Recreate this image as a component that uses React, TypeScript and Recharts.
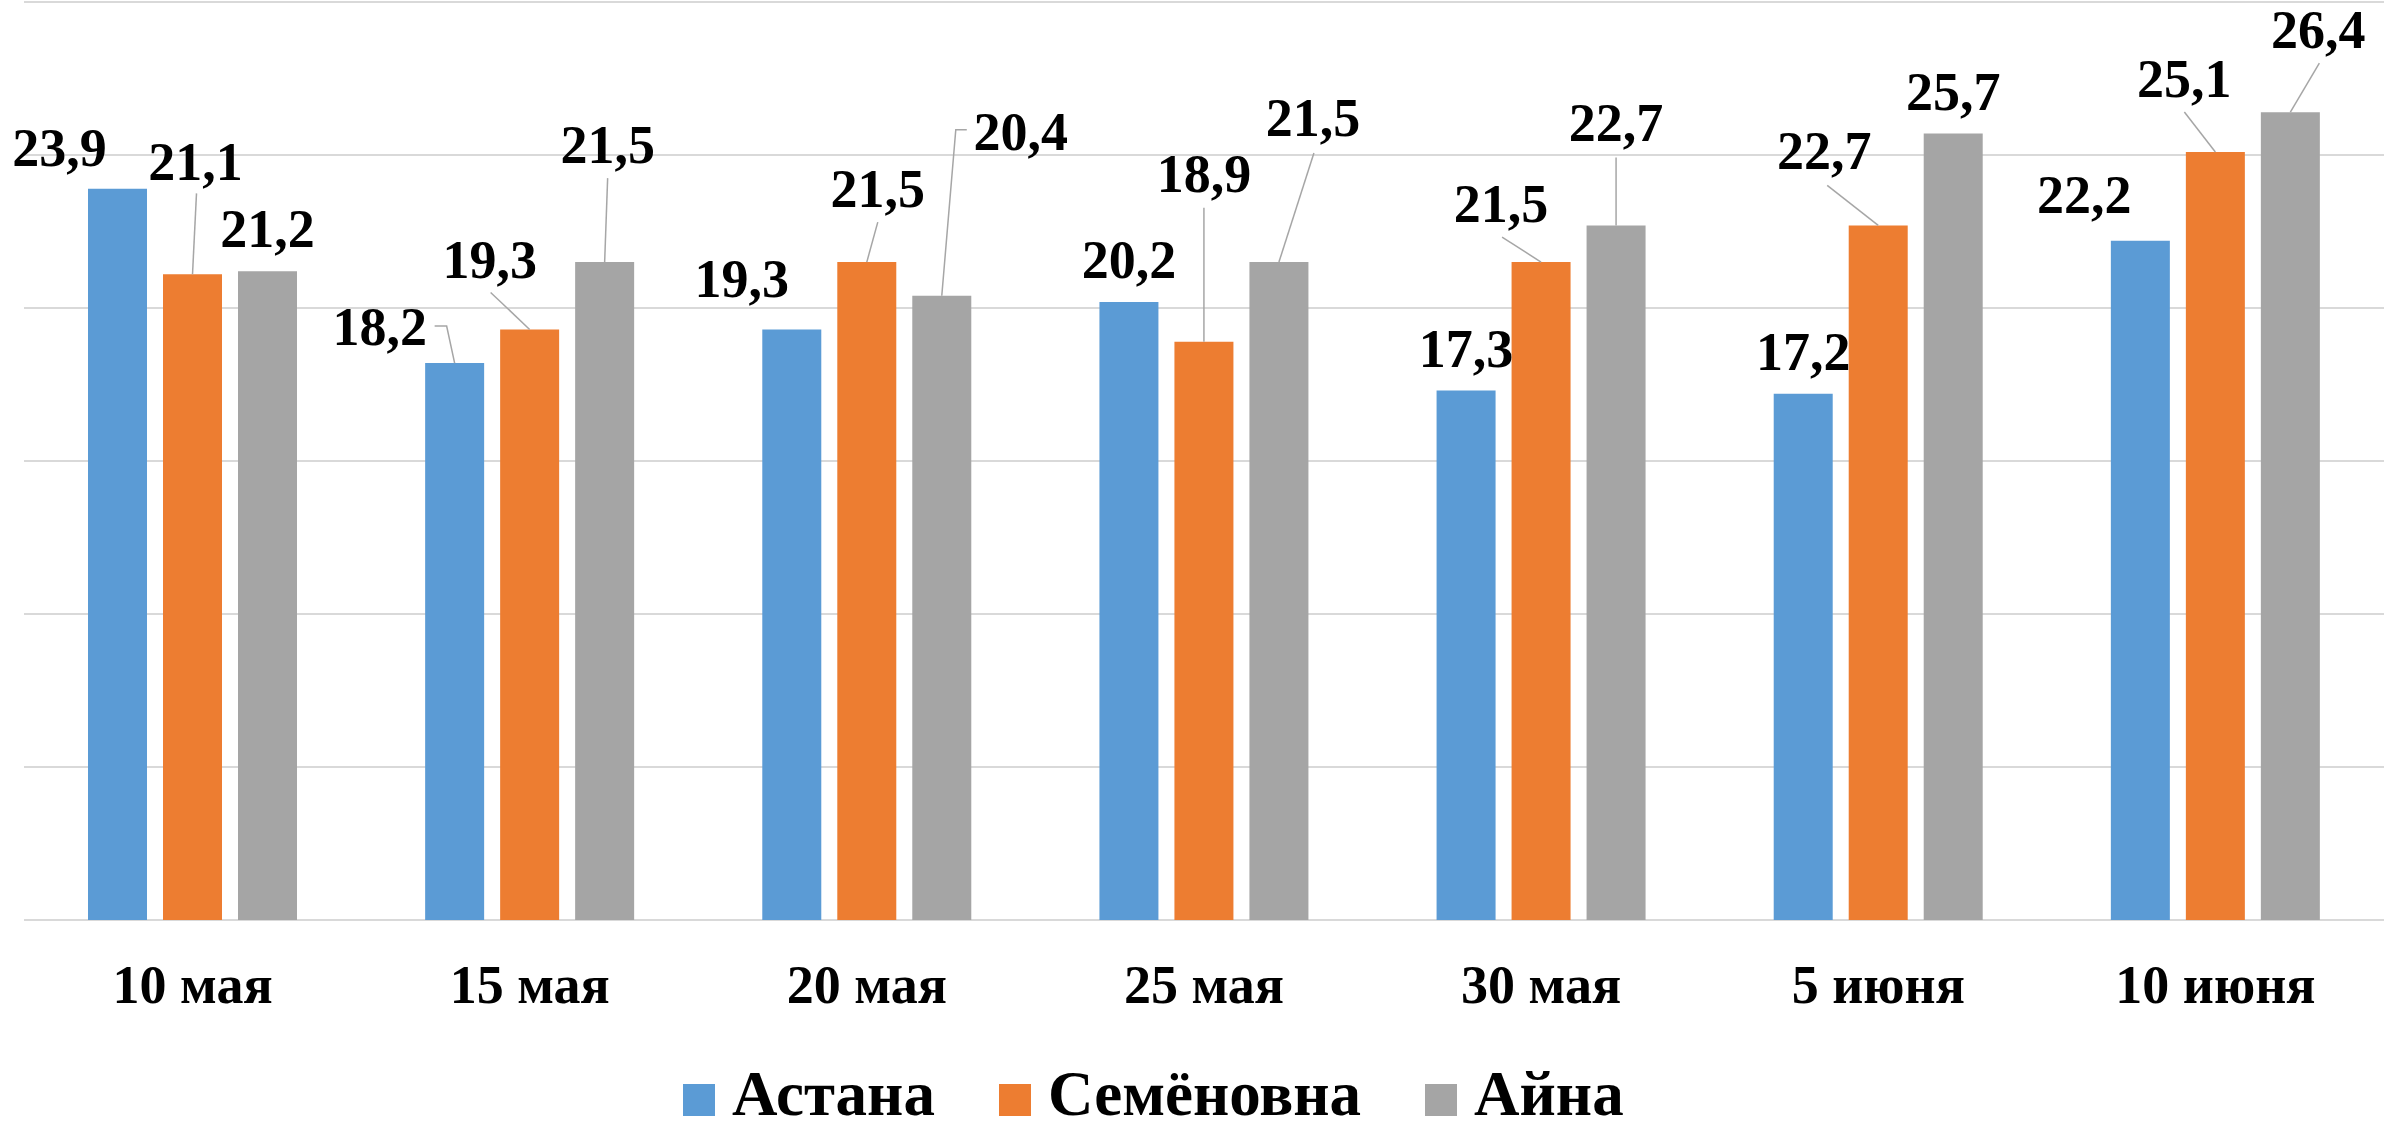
import { BarChart, Bar, XAxis, YAxis, CartesianGrid, LabelList } from 'recharts';

const categories = ['10 мая', '15 мая', '20 мая', '25 мая', '30 мая', '5 июня', '10 июня'];
const astana = [23.9, 18.2, 19.3, 20.2, 17.3, 17.2, 22.2];
const semenovna = [21.1, 19.3, 21.5, 18.9, 21.5, 22.7, 25.1];
const aina = [21.2, 21.5, 20.4, 21.5, 22.7, 25.7, 26.4];
const yTicks = [0, 5, 10, 15, 20, 25, 30];

const series = [
  { key: 'astana', name: 'Астана', color: '#5b9bd5' },
  { key: 'semenovna', name: 'Семёновна', color: '#ed7d31' },
  { key: 'aina', name: 'Айна', color: '#a5a5a5' },
];

// label placement (moved by hand in the original), relative to bar top centre
type Place = { dx: number; dy: number; leader?: number[][] };
const D: Place = { dx: 0, dy: -24 };
const placements: Record<string, Place[]> = {
  astana: [
    { dx: -58, dy: -23 },
    { dx: -75, dy: -18, leader: [[-20, -37], [-8, -37]] },
    { dx: -50, dy: -32 },
    D,
    D,
    D,
    { dx: -56, dy: -28 },
  ],
  semenovna: [
    { dx: 3, dy: -94, leader: [[4, -81]] },
    { dx: -40, dy: -51, leader: [[-39, -37]] },
    { dx: 11, dy: -55, leader: [[11, -40]] },
    { dx: 0, dy: -150, leader: [[0, -134]] },
    { dx: -40, dy: -40, leader: [[-39, -25]] },
    { dx: -54, dy: -56, leader: [[-51, -40]] },
    { dx: -31, dy: -55, leader: [[-31, -40]] },
  ],
  aina: [
    D,
    { dx: 3, dy: -99, leader: [[3, -84]] },
    { dx: 79, dy: -146, leader: [[25, -166], [14, -166]] },
    { dx: 34, dy: -126, leader: [[35, -109]] },
    { dx: 0, dy: -84, leader: [[0, -68]] },
    D,
    { dx: 28, dy: -64, leader: [[29, -49]] },
  ],
};

const data = categories.map((name, i) => ({
  name,
  astana: astana[i],
  semenovna: semenovna[i],
  aina: aina[i],
}));

const FONT = '"Liberation Serif", "Times New Roman", serif';

const fmt = (v: number) => v.toFixed(1).replace('.', ',');

function makeLabel(key: string) {
  return (props: any) => {
    const { x, y, width, value, index } = props;
    const p = placements[key][index] || D;
    const bx = Number(x) + Number(width) / 2;
    const by = Number(y);
    let path = '';
    if (p.leader) {
      const pts = [...p.leader, [0, 0]];
      path = pts.map((pt, i) => `${i ? 'L' : 'M'}${bx + pt[0]},${by + pt[1]}`).join(' ');
    }
    return (
      <g>
        {path && <path d={path} stroke="#a6a6a6" strokeWidth={1.5} fill="none" />}
        <text
          x={bx + p.dx}
          y={by + p.dy}
          textAnchor="middle"
          fontFamily={FONT}
          fontWeight="bold"
          fontSize={54}
          fill="#000"
        >
          {fmt(Number(value))}
        </text>
      </g>
    );
  };
}

function CategoryTick(props: any) {
  const { x, y, payload } = props;
  return (
    <text
      x={x}
      y={y + 83}
      textAnchor="middle"
      fontFamily={FONT}
      fontWeight="bold"
      fontSize={54}
      fill="#000"
    >
      {payload.value}
    </text>
  );
}

export default function App() {
  return (
    <div style={{ position: 'absolute', left: 0, top: 0, width: 2384, height: 1128, background: '#fff' }}>
      <BarChart
        width={2384}
        height={1128}
        data={data}
        margin={{ top: 2, right: 0, bottom: 0, left: 24 }}
        barGap={16}
        barSize={59}
      >
        <CartesianGrid vertical={false} stroke="#d9d9d9" strokeWidth={2} />
        <XAxis
          dataKey="name"
          height={208}
          axisLine={false}
          tickLine={false}
          tickSize={0}
          tickMargin={0}
          interval={0}
          tick={<CategoryTick />}
        />
        <YAxis hide domain={[0, 30]} ticks={yTicks} />
        {series.map((s) => (
          <Bar key={s.key} dataKey={s.key} name={s.name} fill={s.color} isAnimationActive={false}>
            <LabelList dataKey={s.key} content={makeLabel(s.key)} />
          </Bar>
        ))}
      </BarChart>
      <div
        style={{
          position: 'absolute',
          left: 683,
          top: 1062,
          display: 'flex',
          alignItems: 'center',
          lineHeight: '64px',
          height: 64,
          fontFamily: FONT,
          fontWeight: 'bold',
          fontSize: 63,
          whiteSpace: 'nowrap',
        }}
      >
        {series.map((s) => (
          <div key={s.key} style={{ display: 'flex', alignItems: 'center', marginRight: 64 }}>
            <div style={{ width: 32, height: 32, background: s.color, marginRight: 17, marginTop: 12 }} />
            <span>{s.name}</span>
          </div>
        ))}
      </div>
    </div>
  );
}
